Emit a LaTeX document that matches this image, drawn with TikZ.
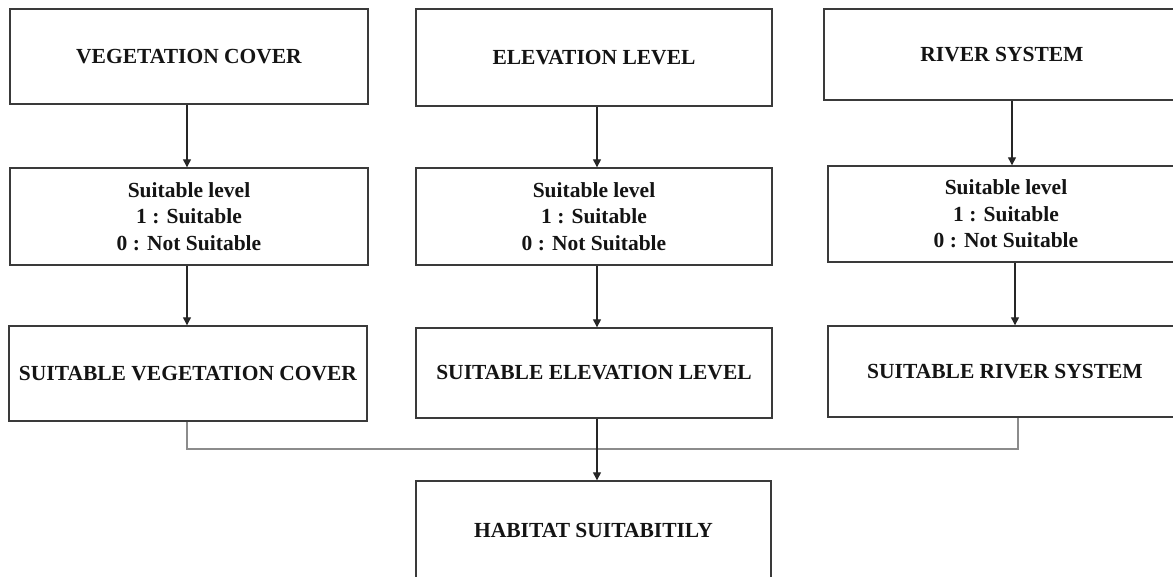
\documentclass[tikz,border=0pt]{standalone}
\usepackage{fontspec}
\setmainfont{Liberation Serif}
\usetikzlibrary{arrows.meta}
\definecolor{boxline}{HTML}{3A3A3A}
\definecolor{joinline}{HTML}{8C8C8C}
\tikzset{
  box/.style={draw=boxline, line width=1.4pt, rectangle, inner sep=0pt, align=center,
    font=\fontsize{21.5}{26.5}\selectfont\bfseries, text=black!92},
  flow/.style={draw=black!85, line width=1.3pt, -{Triangle[length=8pt,width=8pt]}},
  mergeline/.style={draw=joinline, line width=1.1pt}
}
\begin{document}
\begin{tikzpicture}[x=1pt,y=-1pt]
\useasboundingbox (0,0) rectangle (1173,577);
\clip (0,0) rectangle (1173,577);
% top row
\node[box, minimum width=358pt, minimum height=95pt] (v1) at (189,56.5) {VEGETATION COVER};
\node[box, minimum width=356pt, minimum height=97pt] (e1) at (594,57.5) {ELEVATION LEVEL};
\node[box, minimum width=356pt, minimum height=91pt] (r1) at (1002,54.5) {RIVER SYSTEM};
% middle row
\node[box, minimum width=358pt, minimum height=97pt] (v2) at (189,216.5) {Suitable level\\1 : Suitable\\0 : Not Suitable};
\node[box, minimum width=356pt, minimum height=97pt] (e2) at (594,216.5) {Suitable level\\1 : Suitable\\0 : Not Suitable};
\node[box, minimum width=356pt, minimum height=96pt] (r2) at (1006,214) {Suitable level\\1 : Suitable\\0 : Not Suitable};
% bottom row
\node[box, minimum width=358pt, minimum height=95pt] (v3) at (188,373.5) {SUITABLE VEGETATION COVER};
\node[box, minimum width=356pt, minimum height=90pt] (e3) at (594,373) {SUITABLE ELEVATION LEVEL};
\node[box, minimum width=354pt, minimum height=91pt] (r3) at (1005,371.5) {SUITABLE RIVER SYSTEM};
% result
\node[box, minimum width=355pt, minimum height=98pt] (h) at (593.5,530) {HABITAT SUITABITILY};
% arrows
\draw[flow] ([xshift=-2pt]v1.south) -- ([xshift=-2pt]v2.north);
\draw[flow] ([xshift=3pt]e1.south) -- ([xshift=3pt]e2.north);
\draw[flow] ([xshift=10pt]r1.south) -- ([xshift=6pt]r2.north);
\draw[flow] ([xshift=-2pt]v2.south) -- ([xshift=-1pt]v3.north);
\draw[flow] ([xshift=3pt]e2.south) -- ([xshift=3pt]e3.north);
\draw[flow] ([xshift=9pt]r2.south) -- ([xshift=10pt]r3.north);
% merge line
\coordinate (jl) at (187,449);
\coordinate (jr) at (1018,449);
\draw[mergeline] ([xshift=-1pt]v3.south) -- (jl) -- (jr) -- ([xshift=13pt]r3.south);
\draw[flow] ([xshift=3pt]e3.south) -- ([xshift=3.5pt]h.north);
\end{tikzpicture}
\end{document}
